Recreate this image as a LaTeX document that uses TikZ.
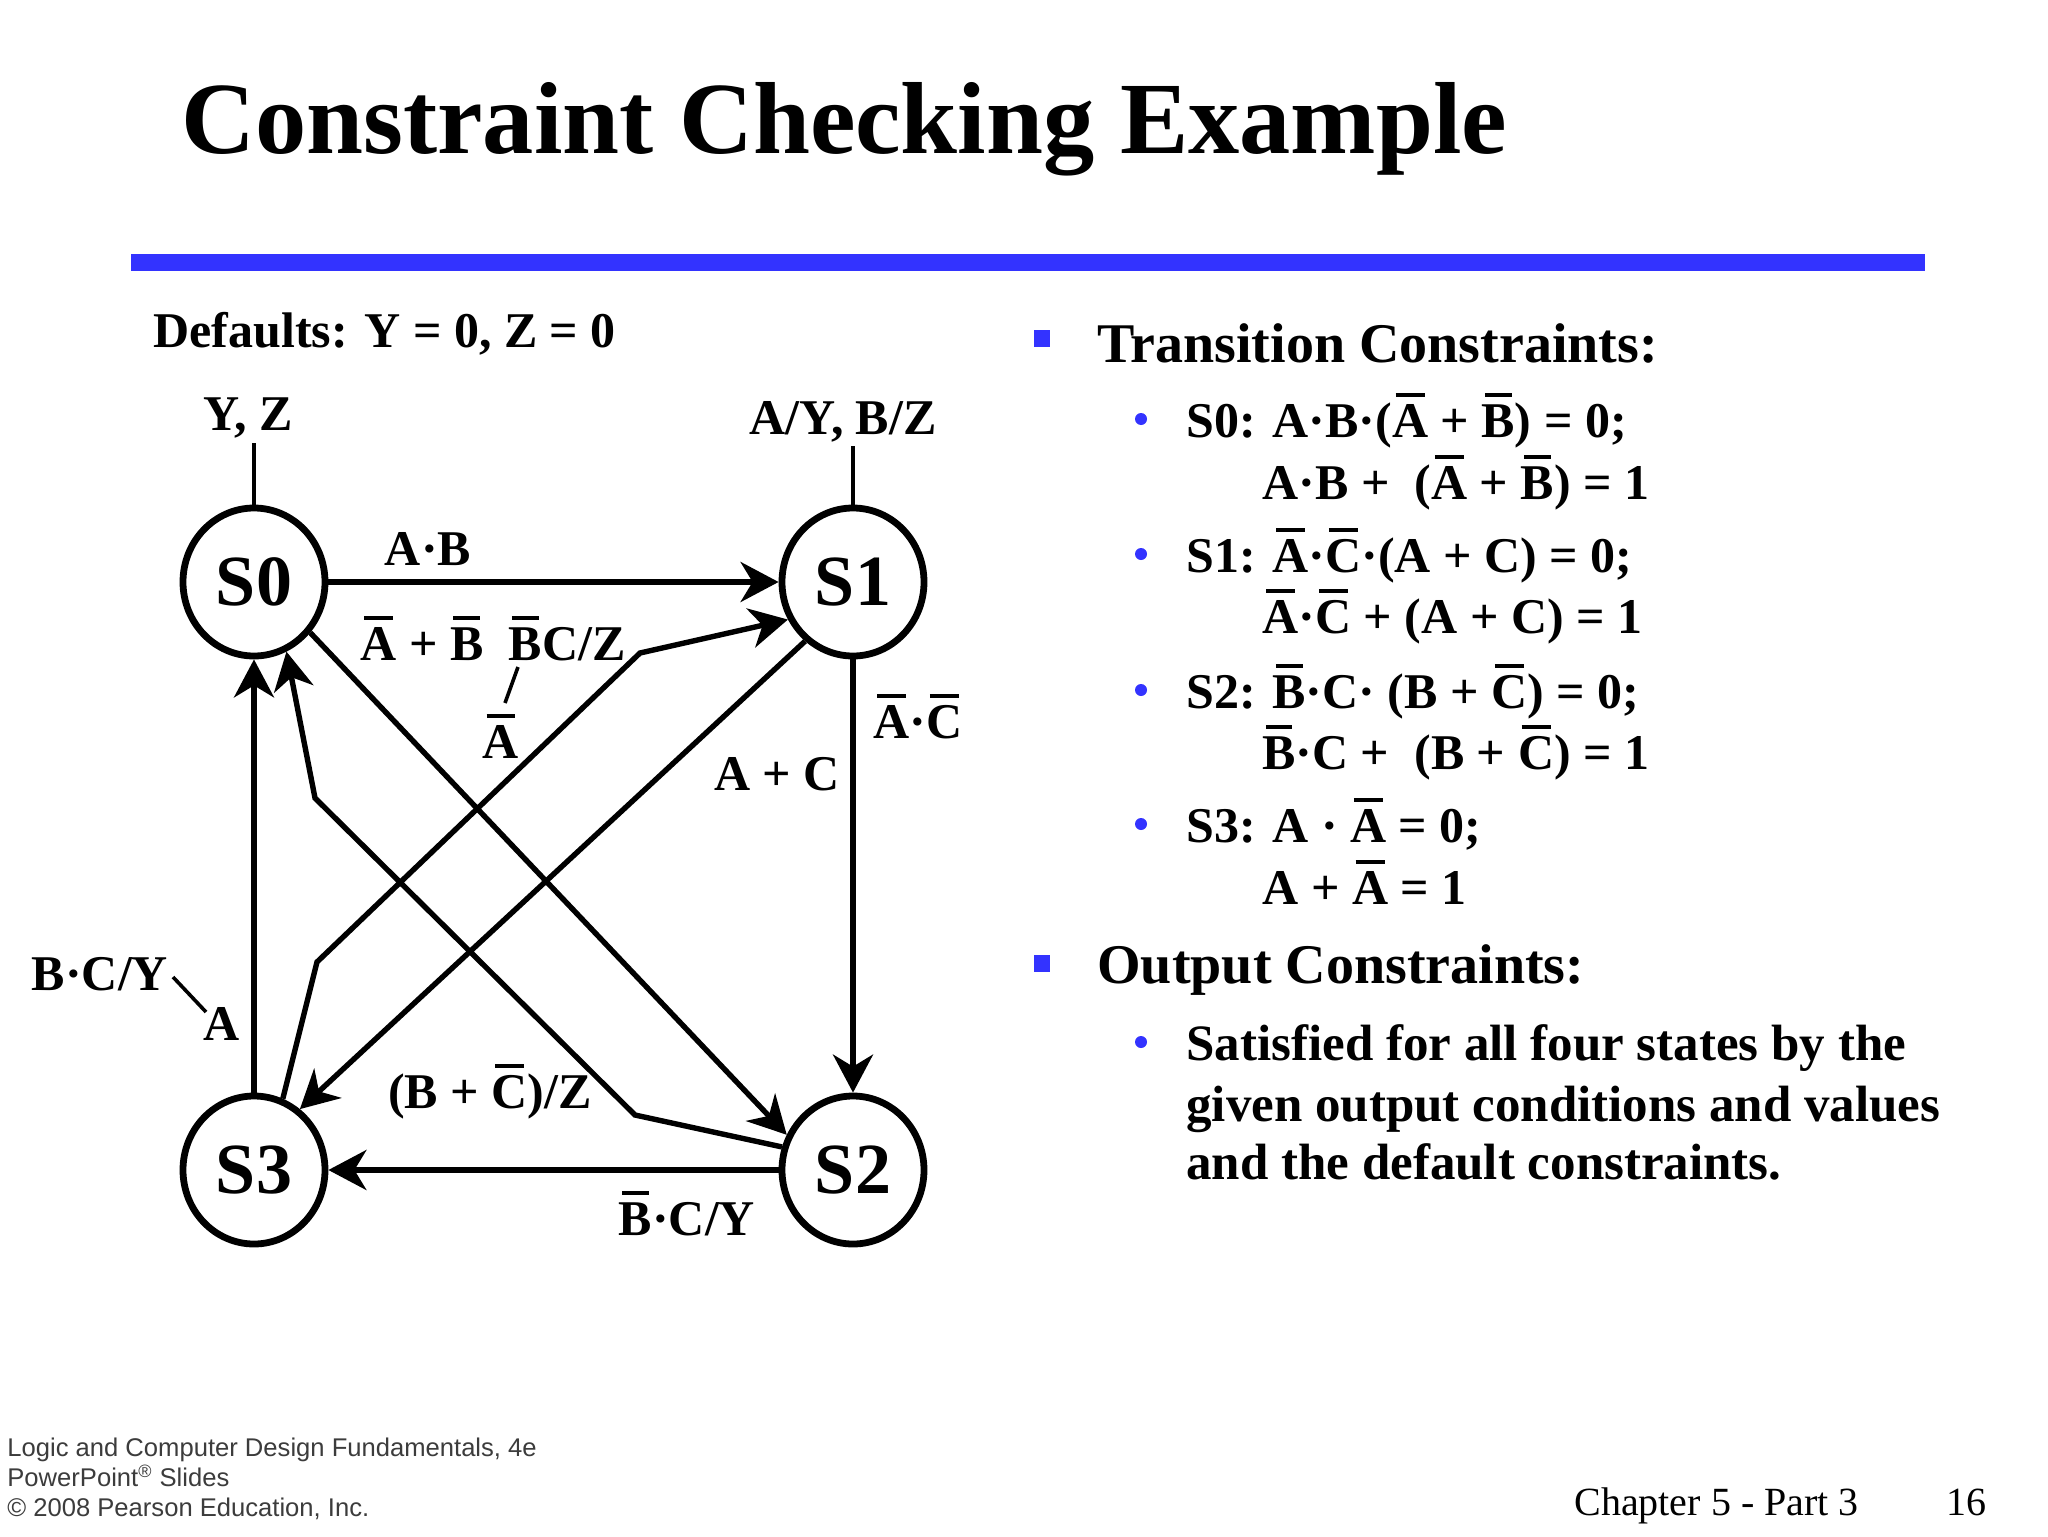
\documentclass[tikz,border=0pt]{standalone}
\usepackage{fontspec}
\setmainfont{Liberation Serif}
\newfontfamily\footfont{Liberation Sans}
\usetikzlibrary{shapes.geometric,arrows.meta}
\definecolor{slideblue}{HTML}{3333FF}
\definecolor{footgray}{HTML}{3C3C3C}
\newsavebox\obbox
\newcommand\ob[1]{\sbox\obbox{#1}\rlap{\hskip0.1\wd\obbox\raisebox{0.8em}{\rule{0.8\wd\obbox}{0.075em}}}\usebox\obbox}
\begin{document}
\begin{tikzpicture}[x=0.5pt,y=-0.5pt,
  state/.style={ellipse, draw, line width=3.4pt, minimum width=71pt, minimum height=74pt, inner sep=0pt,
    font=\fontsize{36}{40}\selectfont\bfseries},
  trans/.style={line width=2.7pt, -{Stealth[length=19pt,width=20pt,inset=6pt]}},
  outline/.style={line width=1.8pt},
  sepline/.style={line width=1.8pt},
  lbl/.style={font=\fontsize{25}{30}\selectfont\bfseries, inner sep=0pt, anchor=base},
  head/.style={font=\fontsize{28}{34}\selectfont\bfseries, inner sep=0pt, anchor=base west},
  sub/.style={font=\fontsize{25.5}{30}\selectfont\bfseries, inner sep=0pt, anchor=base west},
  eq/.style={font=\fontsize{25}{30}\selectfont\bfseries, inner sep=0pt, anchor=base west},
  foot/.style={font=\footfont\fontsize{12.8}{15}\selectfont, text=footgray, inner sep=0pt, anchor=base west},
  chap/.style={font=\fontsize{20}{24}\selectfont, inner sep=0pt, anchor=base west}
]
\useasboundingbox (0,0) rectangle (2048,1536);
\fill[white] (0,0) rectangle (2048,1536);

% title and bar
\node[inner sep=0pt, anchor=base west, font=\fontsize{51.2}{60}\selectfont\bfseries] (title) at (181,154) {Constraint Checking Example};
\fill[slideblue] (131,254) rectangle (1925,271);

% defaults
\node[lbl, anchor=base west] (defaults) at (153,347) {Defaults: Y = 0, Z = 0};

% states
\node[state] (S0) at (254,582) {S0};
\node[state] (S1) at (853,582) {S1};
\node[state] (S2) at (853,1170) {S2};
\node[state] (S3) at (254,1170) {S3};

% output lines
\coordinate (o0) at (254,443);
\coordinate (o1) at (853,446);
\draw[outline] (S0.north) -- (o0);
\draw[outline] (S1.north) -- (o1);
\node[lbl] (yz) at (248,430) {Y, Z};
\node[lbl] (aybz) at (843,434) {A/Y, B/Z};

% bend points
\coordinate (b1) at (317,962);
\coordinate (b2) at (640,653);
\coordinate (b3) at (635,1115);
\coordinate (b4) at (315,798);

% transitions
\draw[trans] (S0.east) -- (S1.west);
\draw[trans] (S0.-42) -- (S2.152);
\draw[trans] (S3.68) -- (b1) -- (b2) -- (S1.210);
\draw[trans] (S1.south) -- (S2.north);
\draw[trans] (S1.-129) -- (S3.53);
\draw[trans] (S2.west) -- (S3.east);
\draw[trans] (S2.162) -- (b3) -- (b4) -- (S0.-65);
\draw[trans] (S3.north) -- (S0.south);

% transition labels
\node[lbl] (lab) at (428,565) {A·B};
\node[lbl] (lanb) at (422,660) {\ob{A} + \ob{B}};
\node[lbl] (lbcz) at (567,660) {\ob{B}C/Z};
\node[lbl] (lna) at (501,758) {\ob{A}};
\coordinate (s1a) at (518,667);
\coordinate (s1b) at (505,703);
\draw[sepline] (s1a) -- (s1b);
\node[lbl] (lnanc) at (918,738) {\ob{A}·\ob{C}};
\node[lbl] (lapc) at (777,790) {A + C};
\node[lbl] (lbcz2) at (490,1108) {(B + \ob{C})/Z};
\node[lbl] (lnbcy) at (687,1235) {\ob{B}·C/Y};
\node[lbl] (lbcy) at (100,990) {B·C/Y};
\node[lbl] (la) at (222,1040) {A};
\coordinate (s2a) at (173,977);
\coordinate (s2b) at (206,1012);
\draw[sepline] (s2a) -- (s2b);

% right column
\fill[slideblue] (1034,330) rectangle (1050,347);
\node[head] (tc) at (1097,362) {Transition Constraints:};
\fill[slideblue] (1141,419) circle (6);
\node[eq] (t0a) at (1186,437) {S0: A·B·(\ob{A} + \ob{B}) = 0;};
\node[eq] (t0b) at (1262,499) {A·B +\enspace(\ob{A} + \ob{B}) = 1};
\fill[slideblue] (1141,554) circle (6);
\node[eq] (t1a) at (1186,572) {S1: \ob{A}·\ob{C}·(A + C) = 0;};
\node[eq] (t1b) at (1262,633) {\ob{A}·\ob{C} + (A + C) = 1};
\fill[slideblue] (1141,690) circle (6);
\node[eq] (t2a) at (1186,708) {S2: \ob{B}·C· (B + \ob{C}) = 0;};
\node[eq] (t2b) at (1262,769) {\ob{B}·C +\enspace(B + \ob{C}) = 1};
\fill[slideblue] (1141,824) circle (6);
\node[eq] (t3a) at (1186,842) {S3: A · \ob{A} = 0;};
\node[eq] (t3b) at (1262,904) {A + \ob{A} = 1};

\fill[slideblue] (1034,955) rectangle (1050,972);
\node[head] (oc) at (1097,983) {Output Constraints:};
\fill[slideblue] (1141,1042) circle (6);
\node[sub] (oc1) at (1186,1060) {Satisfied for all four states by the};
\node[sub] (oc2) at (1186,1121) {given output conditions and values};
\node[sub] (oc3) at (1186,1179) {and the default constraints.};

% footer
\node[foot] (f1) at (7,1456) {Logic and Computer Design Fundamentals, 4e};
\node[foot] (f2) at (7,1486) {PowerPoint\textsuperscript{®} Slides};
\node[foot] (f3) at (7,1516) {© 2008 Pearson Education, Inc.};
\node[chap] (ch) at (1574,1515) {Chapter 5 - Part 3};
\node[chap] (pg) at (1946,1515) {16};
\end{tikzpicture}
\end{document}
